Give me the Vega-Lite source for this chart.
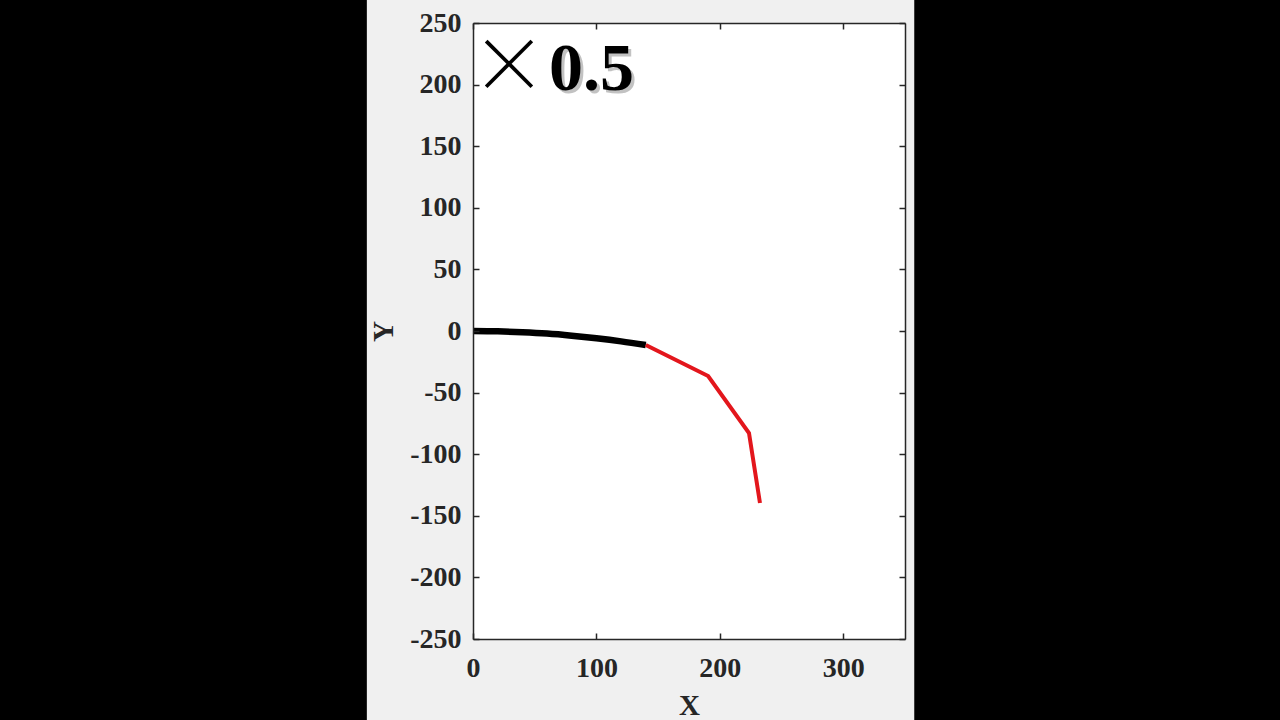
{
  "$schema": "https://vega.github.io/schema/vega-lite/v6.json",
  "width": 432,
  "height": 616,
  "autosize": {"type": "none"},
  "padding": {"left": 473, "top": 23, "right": 375, "bottom": 81},
  "background": "#000000",
  "config": {
    "view": {"stroke": null, "fill": null},
    "axis": {
      "domainColor": "#262626", "tickColor": "#262626", "labelColor": "#262626",
      "titleColor": "#262626",
      "labelFont": "Liberation Serif", "labelFontWeight": "bold", "labelFontSize": 28,
      "titleFont": "Liberation Serif", "titleFontWeight": "bold", "titleFontSize": 29,
      "grid": false, "tickSize": -6, "domainWidth": 1.5, "tickWidth": 1.5, "labelFlush": false,
      "labelExpr": "datum.value < 0 ? '-' + abs(datum.value) : '' + datum.value"
    }
  },
  "datasets": {
    "path": [
      {"x": 0, "y": 0, "part": "a", "ord": 1},
      {"x": 20, "y": -0.3, "part": "a", "ord": 2},
      {"x": 40, "y": -1, "part": "a", "ord": 3},
      {"x": 60, "y": -2.1, "part": "a", "ord": 4},
      {"x": 80, "y": -3.8, "part": "a", "ord": 5},
      {"x": 100, "y": -5.9, "part": "a", "ord": 6},
      {"x": 120, "y": -8.4, "part": "a", "ord": 7},
      {"x": 140, "y": -11.4, "part": "a", "ord": 8},
      {"x": 140, "y": -11.4, "part": "b", "ord": 1},
      {"x": 190.5, "y": -36.5, "part": "b", "ord": 2},
      {"x": 223.6, "y": -82.8, "part": "b", "ord": 3},
      {"x": 232.5, "y": -139.6, "part": "b", "ord": 4}
    ]
  },
  "resolve": {"scale": {"x": "independent", "y": "independent"}, "axis": {"x": "independent", "y": "independent"}},
  "layer": [
    {
      "data": {"values": [{}]},
      "mark": {"type": "rect", "color": "#f0f0f0"},
      "encoding": {
        "x": {"datum": -86, "type": "quantitative", "scale": {"domain": [0, 350], "nice": false, "zero": false}, "axis": null},
        "x2": {"datum": 357.5},
        "y": {"datum": -316, "type": "quantitative", "scale": {"domain": [-250, 250], "nice": false, "zero": false}, "axis": null},
        "y2": {"datum": 269}
      }
    },
    {
      "data": {"values": [{}]},
      "mark": {"type": "rect", "color": "#ffffff"},
      "encoding": {
        "x": {"datum": 0, "type": "quantitative", "scale": {"domain": [0, 350], "nice": false, "zero": false},
          "axis": {"orient": "bottom", "title": "X", "values": [0, 100, 200, 300], "labelPadding": 21, "titlePadding": 9, "zindex": 2}},
        "x2": {"datum": 350},
        "y": {"datum": -250, "type": "quantitative", "scale": {"domain": [-250, 250], "nice": false, "zero": false},
          "axis": {"orient": "left", "title": "Y", "values": [-250, -200, -150, -100, -50, 0, 50, 100, 150, 200, 250], "labelPadding": 18, "titlePadding": 11, "zindex": 2}},
        "y2": {"datum": 250}
      }
    },
    {
      "data": {"name": "path"},
      "transform": [{"filter": "datum.part == 'a'"}],
      "mark": {"type": "line", "color": "#000000", "strokeWidth": 6.5, "strokeCap": "butt", "interpolate": "monotone"},
      "encoding": {
        "x": {"field": "x", "type": "quantitative", "scale": {"domain": [0, 350], "nice": false, "zero": false},
          "axis": {"orient": "top", "labels": false, "title": null, "values": [0, 100, 200, 300], "zindex": 2}},
        "y": {"field": "y", "type": "quantitative", "scale": {"domain": [-250, 250], "nice": false, "zero": false},
          "axis": {"orient": "right", "labels": false, "title": null, "values": [-250, -200, -150, -100, -50, 0, 50, 100, 150, 200, 250], "zindex": 2}},
        "order": {"field": "ord"}
      }
    },
    {
      "data": {"name": "path"},
      "transform": [{"filter": "datum.part == 'b'"}],
      "mark": {"type": "line", "color": "#e3161c", "strokeWidth": 4, "strokeJoin": "miter"},
      "encoding": {
        "x": {"field": "x", "type": "quantitative", "scale": {"domain": [0, 350], "nice": false, "zero": false}, "axis": null},
        "y": {"field": "y", "type": "quantitative", "scale": {"domain": [-250, 250], "nice": false, "zero": false}, "axis": null},
        "order": {"field": "ord"}
      }
    },
    {
      "data": {"values": [{"label": "0.5", "tx": 61.6, "ty": 195.6}]},
      "mark": {"type": "text", "font": "Liberation Serif", "fontWeight": "bold", "fontSize": 68, "align": "left", "baseline": "alphabetic", "color": "#9a9a9a", "opacity": 0.6, "dx": 3, "dy": 3},
      "encoding": {
        "x": {"field": "tx", "type": "quantitative", "scale": {"domain": [0, 350], "nice": false, "zero": false}, "axis": null},
        "y": {"field": "ty", "type": "quantitative", "scale": {"domain": [-250, 250], "nice": false, "zero": false}, "axis": null},
        "text": {"field": "label"}
      }
    },
    {
      "data": {"values": [{"label": "0.5", "tx": 61.6, "ty": 195.6}]},
      "mark": {"type": "text", "font": "Liberation Serif", "fontWeight": "bold", "fontSize": 68, "align": "left", "baseline": "alphabetic", "color": "#000000"},
      "encoding": {
        "x": {"field": "tx", "type": "quantitative", "scale": {"domain": [0, 350], "nice": false, "zero": false}, "axis": null},
        "y": {"field": "ty", "type": "quantitative", "scale": {"domain": [-250, 250], "nice": false, "zero": false}, "axis": null},
        "text": {"field": "label"}
      }
    },
    {
      "data": {"values": [{"label": "×", "tx": 29.2, "ty": 213}]},
      "mark": {"type": "text", "font": "Noto Sans CJK SC", "fontWeight": 300, "fontSize": 76, "align": "center", "baseline": "middle", "color": "#000000"},
      "encoding": {
        "x": {"field": "tx", "type": "quantitative", "scale": {"domain": [0, 350], "nice": false, "zero": false}, "axis": null},
        "y": {"field": "ty", "type": "quantitative", "scale": {"domain": [-250, 250], "nice": false, "zero": false}, "axis": null},
        "text": {"field": "label"}
      }
    }
  ]
}
